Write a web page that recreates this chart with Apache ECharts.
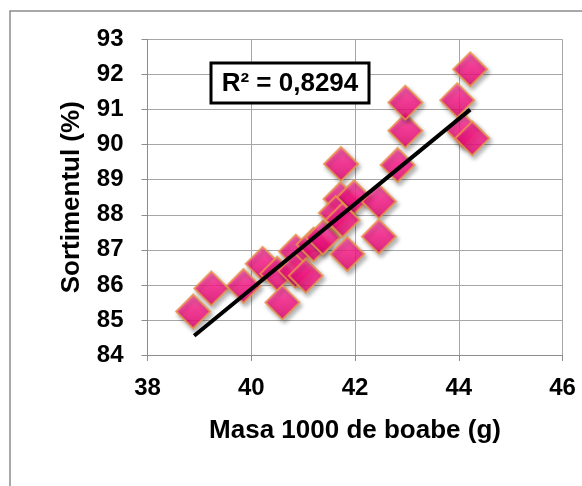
<!DOCTYPE html>
<html>
<head>
<meta charset="utf-8">
<script src="https://cdn.jsdelivr.net/npm/echarts@6.0.0/dist/echarts.min.js"></script>
<style>
html,body{margin:0;padding:0;background:#fff;}
#chart{width:582px;height:486px;}
</style>
</head>
<body>
<div id="chart"></div>
<script>
// Data
var masaX = [38.88, 39.23, 39.85, 40.22, 40.50, 40.60, 40.86, 40.85, 41.05, 41.20, 41.38, 41.73, 41.72, 41.98, 41.63, 41.76, 41.85, 42.46, 42.46, 42.82, 42.97, 42.97, 43.97, 44.22, 44.08, 44.26];
var sortY = [85.24, 85.90, 85.97, 86.60, 86.32, 85.50, 86.95, 86.40, 86.26, 87.15, 87.35, 89.45, 88.45, 88.50, 88.05, 87.85, 86.88, 88.38, 87.38, 89.42, 90.40, 91.20, 91.27, 92.15, 90.42, 90.18];
var trendX = [38.90, 44.22];
var trendY = [84.55, 91.00];
var xTicks = [38, 40, 42, 44, 46];
var yTicks = [84, 85, 86, 87, 88, 89, 90, 91, 92, 93];
var xTitle = 'Masa 1000 de boabe (g)';
var yTitle = 'Sortimentul (%)';
var r2Text = 'R² = 0,8294';

var points = masaX.map(function (x, i) { return [x, sortY[i]]; });
var trend = trendX.map(function (x, i) { return [x, trendY[i]]; });

var font = '"Liberation Sans", Arial, sans-serif';
var chart = echarts.init(document.getElementById('chart'), null, {renderer: 'canvas'});
chart.setOption({
  animation: false,
  backgroundColor: '#ffffff',
  grid: {left: 147.5, right: 19.5, top: 39.5, bottom: 131, containLabel: false},
  xAxis: {
    type: 'value', min: xTicks[0], max: xTicks[xTicks.length - 1], interval: 2,
    name: xTitle, nameLocation: 'middle', nameGap: 63,
    nameTextStyle: {fontFamily: font, fontWeight: 'bold', fontSize: 26, color: '#000'},
    axisLine: {show: true, onZero: false, lineStyle: {color: '#8c8c8c', width: 1}},
    axisTick: {show: true, inside: false, length: 6, lineStyle: {color: '#8c8c8c'}},
    axisLabel: {fontFamily: font, fontWeight: 'bold', fontSize: 24, color: '#000', margin: 21},
    splitLine: {show: true, lineStyle: {color: '#a6a6a6', width: 1}}
  },
  yAxis: {
    type: 'value', min: yTicks[0], max: yTicks[yTicks.length - 1], interval: 1,
    name: yTitle, nameLocation: 'middle', nameGap: 63, nameRotate: 90,
    nameTextStyle: {fontFamily: font, fontWeight: 'bold', fontSize: 26, color: '#000'},
    axisLine: {show: true, onZero: false, lineStyle: {color: '#8c8c8c', width: 1}},
    axisTick: {show: true, inside: false, length: 6, lineStyle: {color: '#8c8c8c'}},
    axisLabel: {fontFamily: font, fontWeight: 'bold', fontSize: 24, color: '#000', margin: 24},
    splitLine: {show: true, lineStyle: {color: '#a6a6a6', width: 1}}
  },
  series: [
    {
      type: 'scatter',
      data: points,
      symbol: 'diamond',
      symbolSize: 34,
      itemStyle: {
        color: new echarts.graphic.LinearGradient(0, 0, 0, 1, [
          {offset: 0, color: '#ff4aa4'},
          {offset: 0.45, color: '#ff1a8a'},
          {offset: 1, color: '#e4006c'}
        ]),
        borderColor: '#e8964a',
        borderWidth: 2,
        shadowBlur: 4,
        shadowColor: 'rgba(0,0,0,0.35)',
        shadowOffsetX: 2,
        shadowOffsetY: 3
      },
      z: 2
    },
    {
      type: 'line',
      data: trend,
      symbol: 'none',
      lineStyle: {color: '#000', width: 4},
      z: 3
    }
  ],
  graphic: [
    {
      type: 'rect', silent: true,
      shape: {x: 10, y: 11, width: 700, height: 600},
      style: {fill: 'none', stroke: '#8c8c8c', lineWidth: 1.5}
    },
    {
      type: 'rect', silent: true, z: 10,
      shape: {x: 211, y: 63, width: 158, height: 40},
      style: {fill: '#fff', stroke: '#000', lineWidth: 3}
    },
    {
      type: 'text', silent: true, z: 11,
      x: 290, y: 84,
      style: {text: r2Text, fontFamily: font, fontWeight: 'bold', fontSize: 26, fill: '#000',
              align: 'center', verticalAlign: 'middle'}
    }
  ]
});
</script>
</body>
</html>
